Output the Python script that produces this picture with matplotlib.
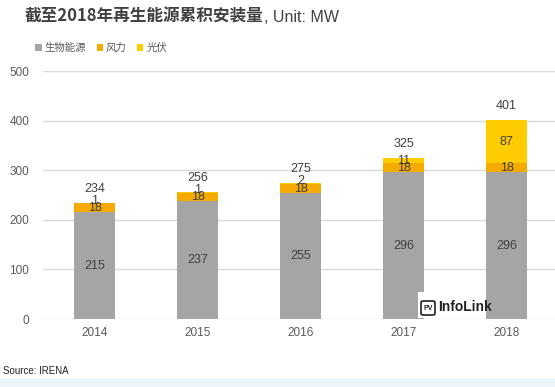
import matplotlib
matplotlib.use("Agg")
import matplotlib.pyplot as plt
from matplotlib.patches import Rectangle, FancyBboxPatch
import numpy as np

plt.rcParams['font.family'] = ['Liberation Sans', 'Noto Sans CJK SC', 'DejaVu Sans']

years = ['2014', '2015', '2016', '2017', '2018']
biomass = [215, 237, 255, 296, 296]
wind = [18, 18, 18, 18, 18]
solar = [1, 1, 2, 11, 87]
totals = [234, 256, 275, 325, 401]
series_names = ['生物能源', '风力', '光伏']
colors = ['#A5A5A5', '#F4AA00', '#FFCC00']

W, H = 555, 387
fig = plt.figure(figsize=(W/100, H/100), dpi=100)
ax = fig.add_axes([43/W, (H-319)/H, (W-43)/W, (319-71)/H])

x = np.arange(len(years))
bw = 0.4
b1 = ax.bar(x, biomass, bw, color=colors[0], label=series_names[0], zorder=2)
b2 = ax.bar(x, wind, bw, bottom=biomass, color=colors[1], label=series_names[1], zorder=2)
bottom3 = [a + b for a, b in zip(biomass, wind)]
b3 = ax.bar(x, solar, bw, bottom=bottom3, color=colors[2], label=series_names[2], zorder=2)

txtc = '#404040'
fs = 9
for i in range(len(years)):
    ax.text(x[i], biomass[i] / 2, str(biomass[i]), ha='center', va='center', fontsize=fs, color=txtc, zorder=3)
    ax.text(x[i], biomass[i] + wind[i] / 2 - 1, str(wind[i]), ha='center', va='center', fontsize=fs, color=txtc, zorder=3)
    ax.text(x[i], bottom3[i] + solar[i] / 2 + (4 if solar[i] < 5 else 0), str(solar[i]), ha='center', va='center', fontsize=fs, color=txtc, zorder=3)
    ax.text(x[i], totals[i] + 16, str(totals[i]), ha='center', va='bottom', fontsize=fs, color=txtc, zorder=3)

ax.set_xlim(-0.5, 4.47)
ax.set_ylim(0, 500)
ax.set_yticks([0, 100, 200, 300, 400, 500])
ax.set_xticks(x)
ax.set_xticklabels(years)
ax.grid(axis='y', color='#D9D9D9', linewidth=1, zorder=0)
for s in ax.spines.values():
    s.set_visible(False)
ax.tick_params(axis='both', length=0, labelsize=8.5, labelcolor='#595959')
ax.tick_params(axis='y', pad=10)
ax.tick_params(axis='x', pad=6)

# Title
t1 = fig.text(25/W, 1 - 17/H, '截至2018年再生能源累积安装量', fontsize=12, fontweight='bold',
              color='#404040', va='center', ha='left', family=['Noto Sans CJK SC', 'DejaVu Sans'])
fig.canvas.draw()
bb = t1.get_window_extent(fig.canvas.get_renderer())
fig.text(bb.x1 / (W), 1 - 17/H, ', Unit: MW', fontsize=11.5, color='#404040', va='center', ha='left')

# Legend
leg = fig.legend(handles=[b1, b2, b3], labels=series_names, loc='center left',
                 bbox_to_anchor=(26/W, 1 - 48/H), ncol=3, frameon=False,
                 handlelength=0.6, handleheight=0.6, handletextpad=0.3, columnspacing=1.0,
                 prop={'family': ['Noto Sans CJK SC', 'DejaVu Sans'], 'size': 7.5})
for t in leg.get_texts():
    t.set_color('#595959')

# Logo
fig.patches.append(Rectangle((418/W, (H-318)/H), 68/W, 26/H, transform=fig.transFigure,
                             facecolor='white', edgecolor='none', zorder=5))
fig.patches.append(FancyBboxPatch((421/W, (H-315)/H), 14/W, 14/H, boxstyle='round,pad=0,rounding_size=0.004',
                                  transform=fig.transFigure, facecolor='white', edgecolor='#222222',
                                  linewidth=1.2, zorder=6))
fig.text(428/W, 1 - 308/H, 'PV', fontsize=5, fontweight='bold', color='#222222', ha='center', va='center', zorder=7)
fig.text(438/W, 1 - 307/H, 'InfoLink', fontsize=10, fontweight='bold', color='#222222', ha='left', va='center', zorder=7)

# Source and bottom band
fig.text(3/W, 1 - 371/H, 'Source: IRENA', fontsize=7, color='#222222', ha='left', va='center')
fig.patches.append(Rectangle((0, 0), 1, 9/H, transform=fig.transFigure,
                             facecolor='#EEF5FC', edgecolor='none', zorder=0))

fig.savefig('out.png', dpi=100)
